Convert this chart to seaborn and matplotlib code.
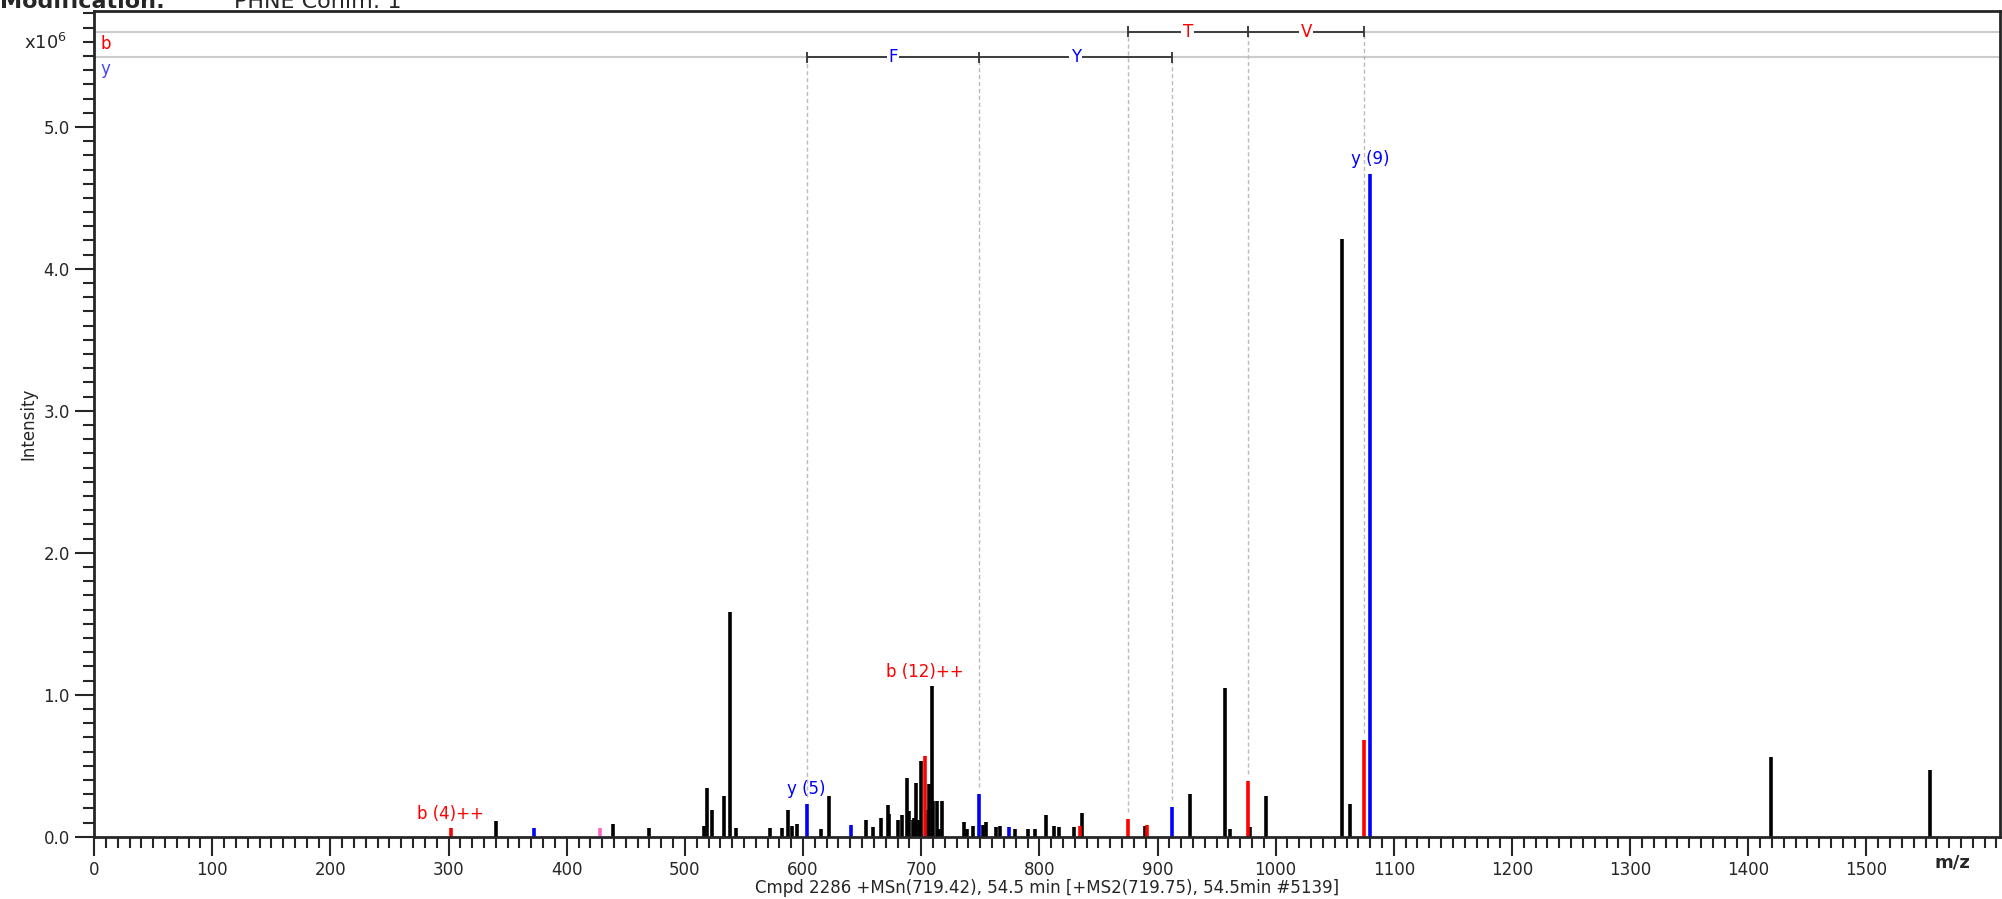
import numpy as np
import matplotlib
matplotlib.use("Agg")
import matplotlib.pyplot as plt
import seaborn as sns
from matplotlib.ticker import MultipleLocator, FixedLocator

# peak list, intensity in units of 1e6
black_mz = [340, 439, 470, 516, 519, 523, 533, 538, 543, 572, 582, 587, 591, 595,
            615, 622, 653, 659, 666, 672, 673, 680, 684, 688, 690, 693, 694, 696,
            698, 700, 705, 706, 707, 709, 710, 713, 715, 718, 736, 739, 744, 752,
            755, 763, 767, 779, 790, 796, 806, 812, 817, 829, 836, 889, 927.5,
            957.5, 961.5, 978, 991.5, 1056, 1062.5, 1419, 1553.6]
black_int = [0.11, 0.09, 0.06, 0.075, 0.34, 0.19, 0.29, 1.58, 0.06, 0.06, 0.06, 0.19,
             0.075, 0.09, 0.055, 0.29, 0.115, 0.065, 0.135, 0.22, 0.16, 0.115, 0.15,
             0.41, 0.18, 0.115, 0.13, 0.38, 0.115, 0.53, 0.16, 0.19, 0.37, 1.06, 0.25,
             0.25, 0.055, 0.25, 0.105, 0.055, 0.075, 0.085, 0.105, 0.065, 0.075,
             0.055, 0.055, 0.055, 0.15, 0.075, 0.065, 0.065, 0.17, 0.075, 0.30,
             1.05, 0.055, 0.065, 0.29, 4.21, 0.23, 0.56, 0.47]
b_mz = [302, 703, 834, 875, 891.5, 976.5, 1075]
b_int = [0.06, 0.565, 0.075, 0.125, 0.085, 0.39, 0.68]
y_mz = [372, 603, 641, 749, 774, 912.5, 1080]
y_int = [0.06, 0.23, 0.085, 0.30, 0.065, 0.21, 4.67]
other_mz = [428]
other_int = [0.06]

# sequence ladders
b_ladder = [875, 976.5, 1075]
b_res = ["T", "V"]
y_ladder = [603, 749, 912.5]
y_res = ["F", "Y"]

labels = [(1080, 4.67, "y (9)", "blue"), (703, 1.06, "b (12)++", "red"),
          (603, 0.23, "y (5)", "blue"), (302, 0.06, "b (4)++", "red")]

x_ticks = list(range(0, 1501, 100))

sns.set_style("ticks")
plt.rcParams["font.family"] = ["DejaVu Sans"]

fig = plt.figure(figsize=(20.02, 8.99), dpi=100)
ax = fig.add_axes([0.047, 0.0693, 0.952, 0.919])

ax.vlines(black_mz, 0, black_int, color="black", lw=2.6)
ax.vlines(other_mz, 0, other_int, color="#ff66cc", lw=2.6)
ax.vlines(b_mz, 0, b_int, color="red", lw=2.6)
ax.vlines(y_mz, 0, y_int, color="blue", lw=2.6)

b_level, y_level = 5.67, 5.49
ax.axhline(b_level, color="#cccccc", lw=1.5, zorder=0)
ax.axhline(y_level, color="#cccccc", lw=1.5, zorder=0)

def ladder(pos, res, level, col, peaks, ints):
    for p in pos:
        h = ints[peaks.index(p)]
        ax.vlines(p, h + 0.05, level, color="#bbbbbb", lw=1, ls=(0, (3, 2)), zorder=0)
        ax.vlines(p, level - 0.04, level + 0.04, color="#333333", lw=1.3)
    ax.hlines(level, pos[0], pos[-1], color="#333333", lw=1.3)
    for a, b, r in zip(pos[:-1], pos[1:], res):
        ax.text((a + b) / 2, level, r, color=col, ha="center", va="center", fontsize=12,
                bbox=dict(fc="white", ec="none", pad=1))

ladder(b_ladder, b_res, b_level, "red", b_mz, b_int)
ladder(y_ladder, y_res, y_level, "blue", y_mz, y_int)

ax.text(5, b_level - 0.02, "b", color="red", fontsize=12, va="top")
ax.text(5, y_level - 0.02, "y", color="#4444ff", fontsize=12, va="top")

for x, h, t, c in labels:
    ax.text(x, h + 0.04, t, color=c, ha="center", va="bottom", fontsize=12)

ax.set_xlim(0, 1613)
ax.set_ylim(0, 5.82)
ax.set_xticks(x_ticks)
ax.set_xticks(np.arange(0, 1613, 10), minor=True)
ax.set_yticks(np.arange(0, 5.01, 1.0))
ax.set_yticks(np.arange(0, 5.82, 0.1), minor=True)
ax.set_yticklabels([f"{v:.1f}" for v in np.arange(0, 5.01, 1.0)])
ax.tick_params(axis="both", which="major", length=14, width=1.5, labelsize=12)
ax.tick_params(axis="both", which="minor", length=8, width=1.5)
for s in ["left", "bottom", "top", "right"]:
    ax.spines[s].set_linewidth(2)

ax.set_ylabel("Intensity", fontsize=12)
ax.set_xlabel("Cmpd 2286 +MSn(719.42), 54.5 min [+MS2(719.75), 54.5min #5139]",
              fontsize=12, labelpad=0)
fig.text(0.975, 0.035, "m/z", fontsize=13, fontweight="bold", ha="center")
fig.text(0.012, 0.945, r"x10$^6$", fontsize=13, ha="left")
fig.text(0.0, 0.998, "Modification:", fontsize=16, fontweight="bold", va="center")
fig.text(0.117, 0.998, "PHNE Conim: 1", fontsize=16, va="center")

fig.savefig("out.png", dpi=100)
